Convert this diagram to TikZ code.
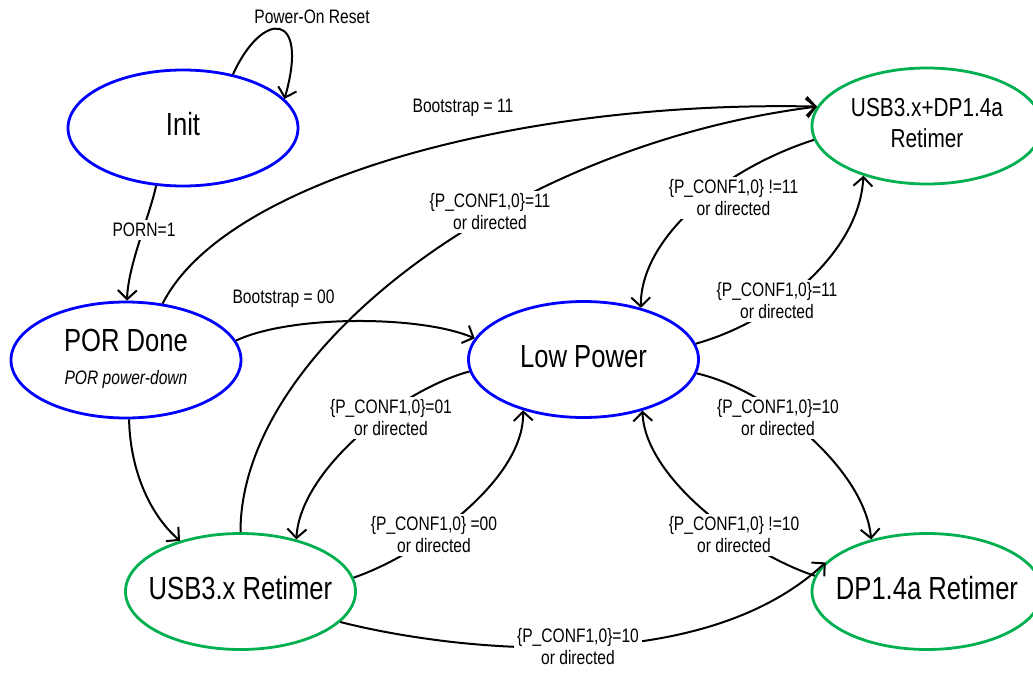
\documentclass[tikz,border=0pt]{standalone}
\usepackage{fontspec}
\setmainfont{Liberation Sans}[FakeStretch=0.8]
\usetikzlibrary{shapes.geometric,arrows.meta}
\definecolor{stblue}{RGB}{0,0,255}
\definecolor{stgreen}{RGB}{0,176,80}
\newcommand{\cbox}[1]{\makebox[0pt]{\begin{tabular}{@{}c@{}}#1\end{tabular}}}
\begin{document}
\begin{tikzpicture}[x=1pt,y=-1pt,
  state/.style={ellipse, draw, line width=2.8pt, minimum width=230pt, minimum height=116pt, inner sep=0pt, font=\fontsize{32}{38}\selectfont},
  bluestate/.style={state, draw=stblue},
  greenstate/.style={state, draw=stgreen},
  conn/.style={line width=2pt, -{Straight Barb[length=9pt,width=19pt]}},
  lbl/.style={fill=white, inner sep=3pt, align=center, font=\fontsize{19.5}{22}\selectfont},
  plainlbl/.style={inner sep=0pt, font=\fontsize{19.5}{22}\selectfont}
]
\clip (0,0) rectangle (1033,674);
\fill[white] (0,0) rectangle (1033,674);

\node[bluestate] (init) at (183,128) {\cbox{Init}};
\node[bluestate] (por) at (126,360) {\cbox{POR Done\\[-5pt]\fontsize{19.5}{22}\selectfont\itshape POR power-down}};
\node[bluestate] (lp) at (583.5,359.5) {\cbox{Low Power}};
\node[greenstate,font=\fontsize{26}{31}\selectfont] (ud) at (927,126) {\cbox{USB3.x+DP1.4a\\Retimer}};
\node[greenstate] (ur) at (240.5,591.5) {\cbox{USB3.x Retimer}};
\node[greenstate] (dp) at (927,591.5) {\cbox{DP1.4a Retimer}};

\draw[conn] (init.47.7) .. controls (262,10) and (310,10) .. (init.16.7);
\draw[conn] (init.245.5) .. controls (150,215) and (128,265) .. (por.89);
\draw[conn] (por.57.7) .. controls (225,180) and (520,100) .. (ud.170);
\draw[conn] (ur.90) .. controls (240,350) and (510,145) .. (ud.170);
\draw[conn] (por.10.4) .. controls (290,315) and (420,315) .. (lp.169.8);
\draw[conn] (por.273) .. controls (130,470) and (150,515) .. (ur.140.5);
\draw[conn] (ud.187) .. controls (720,170) and (640,240) .. (lp.42.9);
\draw[conn] (lp.8.4) .. controls (780,320) and (860,250) .. (ud.218.7);
\draw[conn] (lp.186.8) .. controls (400,390) and (300,470) .. (ur.43.4);
\draw[conn] (ur.7.3) .. controls (420,555) and (525,480) .. (lp.220.8);
\draw[conn] (lp.353.2) .. controls (770,390) and (865,470) .. (dp.137.9);
\draw[conn] (dp.172.6) .. controls (750,555) and (645,480) .. (lp.319.2);
\draw[conn] (ur.343) .. controls (450,650) and (700,680) .. (dp.164);

\node[plainlbl] (lpor) at (312,17) {Power-On Reset};
\node[lbl] (lporn) at (144,230) {PORN=1};
\node[plainlbl, anchor=base] (lb11) at (463,113) {Bootstrap = 11};
\node[plainlbl, anchor=base] (lb00) at (283.5,303) {Bootstrap = 00};
\node[lbl] (l1) at (490,212) {\{P\_CONF1,0\}=11\\or directed};
\node[lbl] (l2) at (733.5,198) {\{P\_CONF1,0\} !=11\\or directed};
\node[lbl] (l3) at (777,301) {\{P\_CONF1,0\}=11\\or directed};
\node[lbl] (l4) at (391,418) {\{P\_CONF1,0\}=01\\or directed};
\node[lbl] (l5) at (434,535) {\{P\_CONF1,0\} =00\\or directed};
\node[lbl] (l6) at (778,418) {\{P\_CONF1,0\}=10\\or directed};
\node[lbl] (l7) at (734,535) {\{P\_CONF1,0\} !=10\\or directed};
\node[lbl] (l8) at (578,647) {\{P\_CONF1,0\}=10\\or directed};
\end{tikzpicture}
\end{document}
